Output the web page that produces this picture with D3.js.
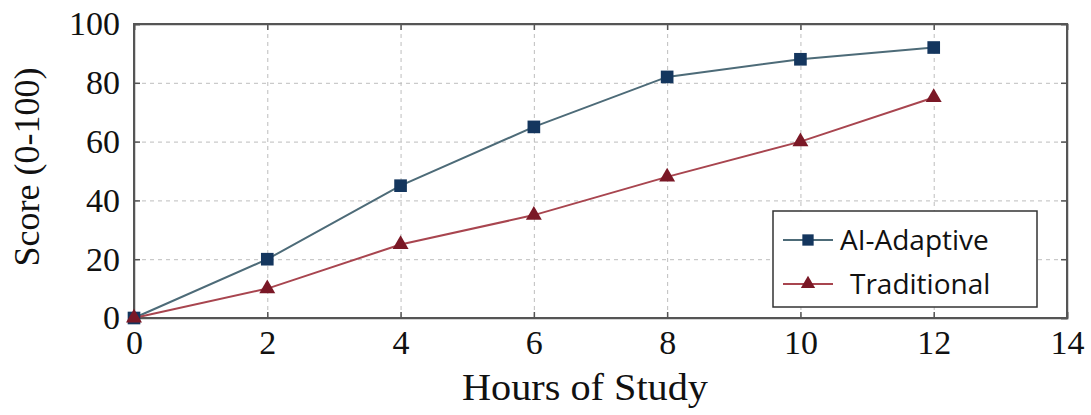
<!DOCTYPE html>
<html>
<head>
<meta charset="utf-8">
<script src="https://cdn.jsdelivr.net/npm/d3@7"></script>
<style>
  body { margin: 0; background: #fff; }
  .tick text { font-family: "Liberation Serif", "Times New Roman", serif; font-size: 34px; fill: #111; }
  .grid line { stroke: #bdbdbd; stroke-dasharray: 4,4; stroke-width: 1; }
  .grid path { display: none; }
</style>
</head>
<body>
<div id="chart"></div>
<script>
// data
const hours = [0, 2, 4, 6, 8, 10, 12];
const aiAdaptive = [0, 20, 45, 65, 82, 88, 92];
const traditional = [0, 10, 25, 35, 48, 60, 75];
const xTicks = [0, 2, 4, 6, 8, 10, 12, 14];
const yTicks = [0, 20, 40, 60, 80, 100];

const W = 1091, H = 415;
const margin = {top: 24, right: 24, bottom: 97, left: 134};
const width = W - margin.left - margin.right;
const height = H - margin.top - margin.bottom;

const svg = d3.select('#chart').append('svg')
  .attr('width', W).attr('height', H);
const g = svg.append('g')
  .attr('transform', 'translate(' + margin.left + ',' + margin.top + ')');

const x = d3.scaleLinear().domain([0, 14]).range([0, width]);
const y = d3.scaleLinear().domain([0, 100]).range([height, 0]);

// gridlines
g.append('g').attr('class', 'grid')
  .attr('transform', 'translate(0,' + height + ')')
  .call(d3.axisBottom(x).tickValues(xTicks.slice(1, -1)).tickSize(-height).tickFormat(''));
g.append('g').attr('class', 'grid')
  .call(d3.axisLeft(y).tickValues(yTicks.slice(1, -1)).tickSize(-width).tickFormat(''));

// axes with inner ticks
const frameColor = '#555';
const xAxis = g.append('g')
  .attr('transform', 'translate(0,' + height + ')')
  .call(d3.axisBottom(x).tickValues(xTicks).tickSize(-6).tickPadding(9));
g.append('g')
  .call(d3.axisLeft(y).tickValues(yTicks).tickSize(-6).tickPadding(14));
g.append('g')
  .call(d3.axisTop(x).tickValues(xTicks).tickSize(-6).tickFormat(''));
g.append('g')
  .attr('transform', 'translate(' + width + ',0)')
  .call(d3.axisRight(y).tickValues(yTicks).tickSize(-6).tickFormat(''));
g.selectAll('.domain, .tick line').attr('stroke', frameColor).attr('stroke-width', 1.5);
xAxis.selectAll('.tick text').attr('dy', '0.8em');

// frame
g.append('rect')
  .attr('width', width).attr('height', height)
  .attr('fill', 'none').attr('stroke', frameColor).attr('stroke-width', 2);

// axis titles
svg.append('text')
  .attr('x', 585).attr('y', 400)
  .attr('text-anchor', 'middle')
  .style('font-family', '"Liberation Serif", serif').style('font-size', '37px').style('fill', '#111')
  .attr('textLength', 246).attr('lengthAdjust', 'spacingAndGlyphs')
  .text('Hours of Study');
svg.append('text')
  .attr('transform', 'translate(39,' + 167 + ') rotate(-90)')
  .attr('text-anchor', 'middle')
  .style('font-family', '"Liberation Serif", serif').style('font-size', '36px').style('fill', '#111')
  .text('Score (0-100)');

const series = [
  {name: 'AI-Adaptive', values: aiAdaptive, line: '#4d6b78', marker: '#14365e', symbol: d3.symbolSquare, size: 160},
  {name: 'Traditional', values: traditional, line: '#a8454f', marker: '#7a1826', symbol: d3.symbolTriangle, size: 110}
];

const line = d3.line().x((d, i) => x(hours[i])).y(d => y(d));

series.forEach(s => {
  g.append('path').datum(s.values)
    .attr('fill', 'none').attr('stroke', s.line).attr('stroke-width', 2)
    .attr('d', line);
});
series.forEach(s => {
  g.selectAll(null).data(s.values).enter().append('path')
    .attr('transform', (d, i) => 'translate(' + x(hours[i]) + ',' + y(d) + ')')
    .attr('d', d3.symbol().type(s.symbol).size(s.size))
    .attr('fill', s.marker);
});

// legend
const lg = svg.append('g').attr('transform', 'translate(773,211)');
lg.append('rect').attr('width', 264).attr('height', 96)
  .attr('fill', '#fff').attr('stroke', '#333').attr('stroke-width', 1.5);
series.forEach((s, i) => {
  const cy = 29 + i * 44;
  lg.append('line').attr('x1', 10).attr('x2', 60).attr('y1', cy).attr('y2', cy)
    .attr('stroke', s.line).attr('stroke-width', 2);
  lg.append('path').attr('transform', 'translate(35,' + cy + ')')
    .attr('d', d3.symbol().type(s.symbol).size(s.size * 0.8))
    .attr('fill', s.marker);
  lg.append('text').attr('x', i === 0 ? 67 : 77).attr('y', cy).attr('dy', '0.35em')
    .style('font-family', '"Open Sans", "Liberation Sans", sans-serif').style('font-size', '28px').style('fill', '#111')
    .text(s.name);
});
</script>
</body>
</html>
